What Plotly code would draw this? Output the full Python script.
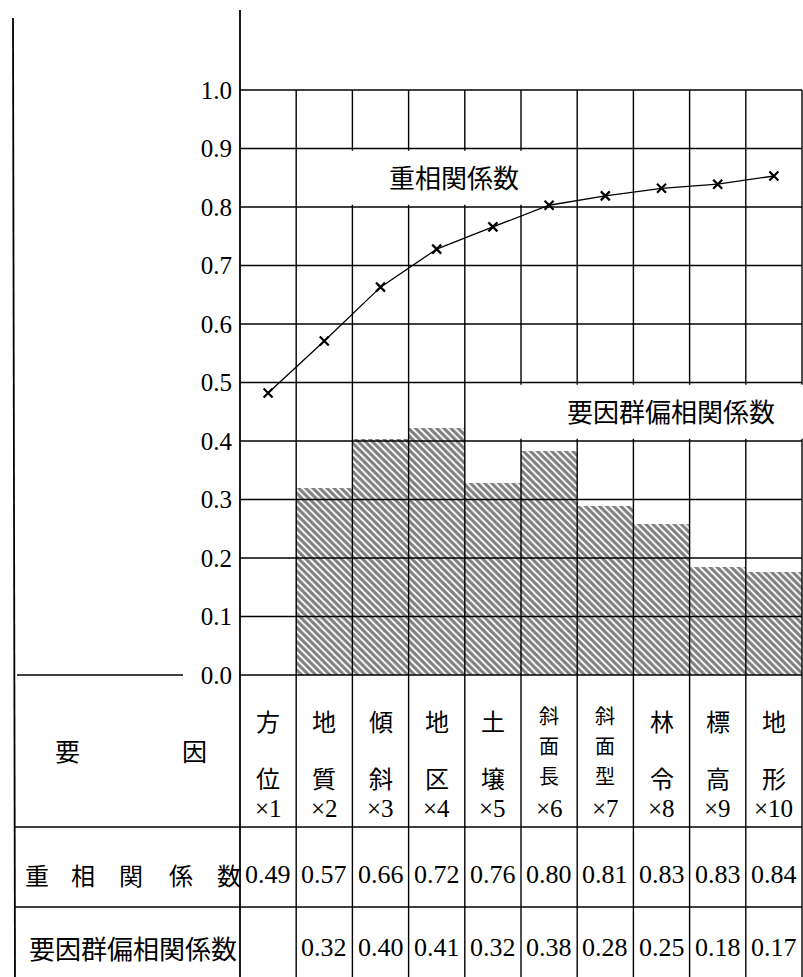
import plotly.graph_objects as go

# ---------------- data ----------------
factor_x = [1, 2, 3, 4, 5, 6, 7, 8, 9, 10]
factor_names = ["方位", "地質", "傾斜", "地区", "土壌", "斜面長", "斜面型", "林令", "標高", "地形"]
factor_codes = ["×1", "×2", "×3", "×4", "×5", "×6", "×7", "×8", "×9", "×10"]
multi_r = [0.482, 0.571, 0.663, 0.728, 0.766, 0.803, 0.819, 0.832, 0.839, 0.853]
partial_r = [None, 0.320, 0.403, 0.422, 0.328, 0.383, 0.289, 0.258, 0.185, 0.176]
multi_r_text = ["0.49", "0.57", "0.66", "0.72", "0.76", "0.80", "0.81", "0.83", "0.83", "0.84"]
partial_r_text = ["", "0.32", "0.40", "0.41", "0.32", "0.38", "0.28", "0.25", "0.18", "0.17"]
y_tickvals = [0.0, 0.1, 0.2, 0.3, 0.4, 0.5, 0.6, 0.7, 0.8, 0.9, 1.0]
y_ticktext = ["0.0", "0.1", "0.2", "0.3", "0.4", "0.5", "0.6", "0.7", "0.8", "0.9", "1.0"]
label_multi = "重相関係数"
label_partial = "要因群偏相関係数"
row_header = "要因"
row_multi = "重相関係数"
row_partial = "要因群偏相関係数"

# ---------------- layout geometry ----------------
FW, FH = 803, 977
L, T = 240, 90
W, H = 562, 585


def px_x(p):
    return (p - L) / W


def px_y(p):
    return (T + H - p) / H


def dx(x):
    return (x - 0.5) / 10.0


CJK = "Noto Sans CJK JP"
SERIF = "Liberation Serif"
LW = 1.4

fig = go.Figure()

fig.add_trace(go.Bar(
    x=factor_x, y=partial_r, width=1.0,
    marker=dict(color="white", line=dict(width=0),
                pattern=dict(shape="\\", fgcolor="black", bgcolor="white",
                             size=5, solidity=0.62, fillmode="overlay")),
    hoverinfo="skip",
))

fig.add_trace(go.Scatter(
    x=factor_x, y=multi_r, mode="lines+markers",
    line=dict(color="black", width=1.3),
    marker=dict(symbol="x-thin", size=9, color="black", line=dict(width=2.2, color="black")),
    cliponaxis=False, hoverinfo="skip",
))

shapes = []


def line(x0, y0, x1, y1, w=LW):
    shapes.append(dict(type="line", xref="paper", yref="paper", x0=x0, y0=y0, x1=x1, y1=y1,
                       line=dict(color="black", width=w), layer="above"))


bottom = px_y(FH + 5)
# horizontal grid lines
for v in y_tickvals:
    line(0, v, 1.0, v)
# vertical grid / table column lines
for k in range(1, 11):
    line(dx(k + 0.5), 1.0, dx(k + 0.5), bottom)
# y axis line (extends above the grid and down through the table)
line(0, px_y(10), 0, bottom, 1.8)
# outer left border
line(px_x(13), px_y(18), px_x(15), bottom, 1.8)
# left header cell top border
line(px_x(17), 0, px_x(183), 0)
# table row lines
line(px_x(15), px_y(827), 1.0, px_y(827))
line(px_x(15), px_y(907), 1.0, px_y(907))

# white label boxes (interrupt the grid)
shapes.append(dict(type="rect", xref="paper", yref="paper",
                   x0=dx(2.5 - 0.04), x1=dx(5.5 + 0.04), y0=0.8 + 0.004, y1=0.9 - 0.004,
                   fillcolor="white", line=dict(width=0), layer="above"))
shapes.append(dict(type="rect", xref="paper", yref="paper",
                   x0=dx(5.5 - 0.04), x1=1.05, y0=0.4 + 0.004, y1=0.5 - 0.004,
                   fillcolor="white", line=dict(width=0), layer="above"))

annotations = []


def text(x, y, s, size, family, xref="paper", xanchor="center"):
    annotations.append(dict(x=x, y=y, xref=xref, yref="paper", text=s, showarrow=False,
                            xanchor=xanchor, yanchor="middle",
                            font=dict(family=family, size=size, color="black")))


# chart labels
text(px_x(387), px_y(176), label_multi, 26, CJK, xanchor="left")
text(px_x(565), px_y(410), label_partial, 26, CJK, xanchor="left")

# table header
text(px_x(67), px_y(750), row_header[0], 25, CJK)
text(px_x(194), px_y(750), row_header[1], 25, CJK)
for k, name, code in zip(factor_x, factor_names, factor_codes):
    if len(name) == 2:
        for ch, yy in zip(name, [720, 777]):
            text(k, px_y(yy), ch, 24, CJK, xref="x")
    else:
        for ch, yy in zip(name, [715, 745, 775]):
            text(k, px_y(yy), ch, 20, CJK, xref="x")
    text(k, px_y(808), code, 25, SERIF, xref="x")

# row 2: multiple correlation
for ch, xx in zip(row_multi, [37, 83, 131, 181, 229]):
    text(px_x(xx), px_y(874), ch, 24, CJK)
for k, s in zip(factor_x, multi_r_text):
    text(k, px_y(874), s, 26, SERIF, xref="x")

# row 3: partial correlation
text(px_x(133), px_y(947), row_partial, 26, CJK)
for k, s in zip(factor_x, partial_r_text):
    if s:
        text(k, px_y(947), s, 26, SERIF, xref="x")

fig.update_layout(
    width=FW, height=FH,
    margin=dict(l=L, r=FW - L - W, t=T, b=FH - T - H),
    paper_bgcolor="white", plot_bgcolor="white",
    showlegend=False, bargap=0,
    xaxis=dict(range=[0.5, 10.5], visible=False, fixedrange=True),
    yaxis=dict(range=[0, 1.0], tickvals=y_tickvals, ticktext=y_ticktext,
               showgrid=False, zeroline=False, showline=False, ticks="",
               ticklabelstandoff=7,
               tickfont=dict(family=SERIF, size=25, color="black"), fixedrange=True),
    shapes=shapes, annotations=annotations,
)

fig.write_html("out.html", config={"displayModeBar": False},
               post_script="document.body.style.margin='0';")
